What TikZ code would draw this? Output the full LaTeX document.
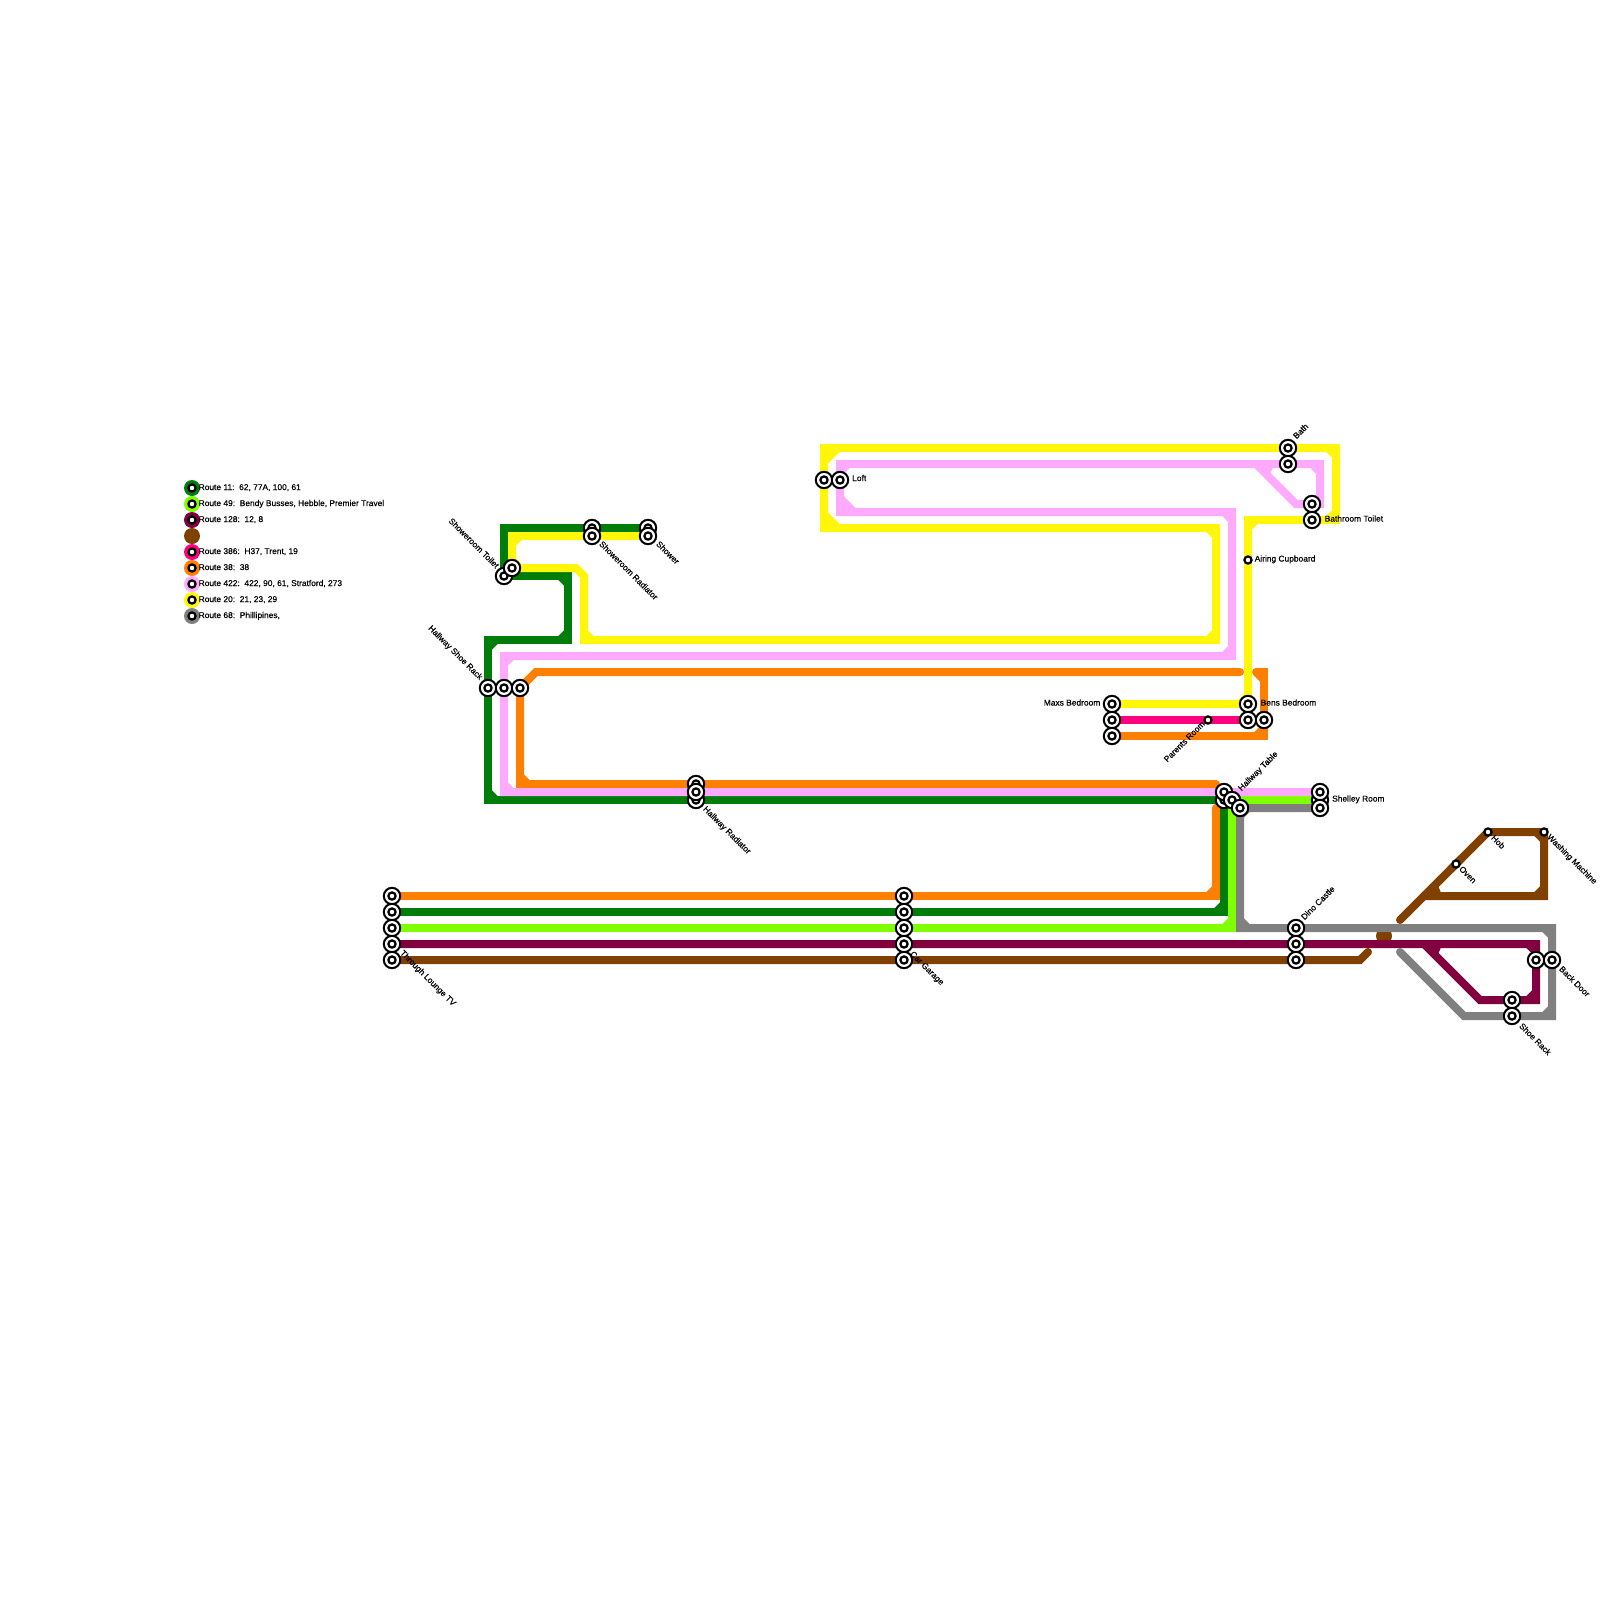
\documentclass[tikz,border=0pt]{standalone}
\usepackage{fontspec}
\setmainfont[FakeBold=0.4]{Liberation Sans}
\usetikzlibrary{calc}
\pgfdeclarelayer{bg}
\pgfsetlayers{bg,main}
\definecolor{cGreen}{HTML}{007C0A}
\definecolor{cLime}{HTML}{7FFF00}
\definecolor{cCrim}{HTML}{800040}
\definecolor{cBrown}{HTML}{804000}
\definecolor{cMag}{HTML}{FF0080}
\definecolor{cOrange}{HTML}{FF8000}
\definecolor{cPink}{HTML}{FFAAFF}
\definecolor{cYellow}{HTML}{FFF60A}
\definecolor{cGray}{HTML}{808080}
\tikzset{
  rt/.style={line width=8pt,line cap=round,line join=miter},
  bigst/.style={circle,draw=black,line width=2pt,fill=white,minimum size=16.4pt,inner sep=0pt,
    path picture={\draw[line width=2.2pt,fill=white] (path picture bounding box.center) circle (3.6pt);}},
  smallst/.style={circle,draw=black,line width=2.2pt,fill=white,minimum size=7.2pt,inner sep=0pt},
  legdot/.style={circle,fill=#1,minimum size=16pt,inner sep=0pt},
  lab/.style={font=\fontsize{8.4}{8.4}\selectfont,inner sep=0pt,text height=5.8pt,text depth=1.7pt,text=black},
  ll/.style={lab,anchor=west},
  lr/.style={lab,anchor=east},
  dn/.style={lab,anchor=west,rotate=-45},
  up/.style={lab,anchor=west,rotate=45},
  upr/.style={lab,anchor=east,rotate=45},
  dnr/.style={lab,anchor=east,rotate=-45},
}
% a route: sharp polyline, with the inner side of every right-angled bend chamfered
\newcommand\nochamf[1]{\expandafter\def\csname nc@#1\endcsname{}}
\newcommand\route[3]{%
  \draw[rt,#1] (#2.center) \foreach \p in {#3}{ -- (\p.center)};
  \gdef\rtA{}\xdef\rtB{#2}%
  \foreach \p in {#3}{%
    \ifx\rtA\empty\else
      \ifcsname nc@\rtB\endcsname\else
        \draw[rt,#1,line cap=butt] ($(\rtB.center)!8pt!(\rtA.center)$) -- ($(\rtB.center)!8pt!(\p.center)$);
      \fi
    \fi
    \xdef\rtA{\rtB}\xdef\rtB{\p}%
  }%
}
\newcommand\chamf[4]{\draw[rt,#1,line cap=butt] ($(#2.center)!14pt!(#3.center)$) -- ($(#2.center)!14pt!(#4.center)$);}
\newcommand\stn[3]{\node[bigst] (#1) at (#2,#3) {};}
\newcommand\wpt[3]{\coordinate (#1) at (#2,#3);}
\nochamf{cC}\nochamf{bA}\nochamf{oD}\nochamf{src}\nochamf{yB}\nochamf{yC}\nochamf{hob}\nochamf{pH}\nochamf{kD}
\begin{document}
\begin{tikzpicture}[x=1pt,y=-1pt]
\useasboundingbox (0,0) rectangle (1600,1600);
\begin{pgfonlayer}{bg}\fill[white] (0,0) rectangle (1600,1600);\end{pgfonlayer}
% legend
\foreach \nm/\co/\yy/\txt in {a/cGreen/488/{Route 11:\ \ 62, 77A, 100, 61},
  b/cLime/504/{Route 49:\ \ Bendy Busses, Hebble, Premier Travel},
  c/cCrim/520/{Route 128:\ \ 12, 8},
  e/cMag/552/{Route 386:\ \ H37, Trent, 19},
  f/cOrange/568/{Route 38:\ \ 38},
  g/cPink/584/{Route 422:\ \ 422, 90, 61, Stratford, 273},
  h/cYellow/600/{Route 20:\ \ 21, 23, 29},
  i/cGray/616/{Route 68:\ \ Phillipines,}}{
  \node[legdot=\co] (leg\nm) at (192,\yy) {};
  \node[smallst] (legs\nm) at (192,\yy) {};
  \node[ll] (legt\nm) at (198.5,\yy) {\txt};
}
\node[legdot=cBrown] (legd) at (192,536) {};
% stations (later ones lie over earlier ones)
\stn{tva}{392}{896}\stn{tvb}{392}{912}\stn{tvc}{392}{928}\stn{tvd}{392}{944}\stn{tve}{392}{960}
\stn{cga}{904}{896}\stn{cgb}{904}{912}\stn{cgc}{904}{928}\stn{cgd}{904}{944}\stn{cge}{904}{960}
\stn{dca}{1296}{928}\stn{dcb}{1296}{944}\stn{dcc}{1296}{960}
\stn{mda}{1112}{704}\stn{mdb}{1112}{720}\stn{mdc}{1112}{736}
\stn{bba}{1248}{704}\stn{bbb}{1248}{720}\stn{bbc}{1264}{720}
\stn{baa}{1288}{448}\stn{bab}{1288}{464}
\stn{bta}{1312}{504}\stn{btb}{1312}{520}
\stn{lfa}{824}{480}\stn{lfb}{840}{480}
\stn{sta}{504}{576}\stn{stb}{512}{568}
\stn{sha}{592}{528}\stn{shb}{592}{536}
\stn{swa}{648}{528}\stn{swb}{648}{536}
\stn{sra}{488}{688}\stn{srb}{504}{688}\stn{src}{520}{688}
\stn{hra}{696}{784}\stn{hrc}{696}{800}\stn{hrb}{696}{792}
\stn{hta}{1224}{800}\stn{htb}{1224}{792}\stn{htc}{1232}{800}\stn{htd}{1240}{808}
\stn{slb}{1320}{800}\stn{sla}{1320}{792}\stn{slc}{1320}{808}
\stn{bda}{1536}{960}\stn{bdb}{1552}{960}
\stn{ska}{1512}{1000}\stn{skb}{1512}{1016}
\node[smallst] (acb) at (1248,560) {};
\node[smallst] (prm) at (1208,720) {};
\node[smallst] (ovn) at (1456,864) {};
\node[smallst] (hob) at (1488,832) {};
\node[smallst] (wsh) at (1544,832) {};
% way-points
\wpt{gA}{1224}{912}\wpt{gB}{488}{800}\wpt{gC}{488}{640}\wpt{gD}{568}{640}\wpt{gE}{568}{576}\wpt{gF}{504}{528}
\wpt{yA}{512}{536}\wpt{yB}{576}{568}\wpt{yC}{584}{576}\wpt{yD}{584}{640}\wpt{yE}{1216}{640}\wpt{yF}{1216}{528}\wpt{yG}{824}{528}\wpt{yH}{824}{448}\wpt{yI}{1336}{448}\wpt{yJ}{1336}{520}\wpt{yK}{1248}{520}
\wpt{pA}{504}{792}\wpt{pB}{504}{656}\wpt{pC}{1232}{656}\wpt{pD}{1232}{512}\wpt{pE}{840}{512}\wpt{pF}{840}{464}\wpt{pG}{1320}{464}\wpt{pJ}{1320}{504}\wpt{pH}{1296}{504}\wpt{pI}{1256}{464}
\wpt{oA}{1216}{896}\wpt{oB}{1216}{808}\wpt{oC}{1240}{672}\wpt{oD}{536}{672}\wpt{oE}{520}{784}\wpt{oF}{1216}{784}\wpt{oG}{1256}{672}\wpt{oH}{1264}{672}\wpt{oI}{1264}{736}
\wpt{lA}{1232}{928}
\wpt{cA}{1536}{944}\wpt{cB}{1536}{1000}\wpt{cC}{1480}{1000}\wpt{cD}{1424}{944}
\wpt{bA}{1360}{960}\wpt{bB}{1368}{952}\wpt{bC}{1400}{920}\wpt{bD}{1544}{896}\wpt{bE}{1424}{896}
\wpt{kA}{1240}{928}\wpt{kB}{1552}{928}\wpt{kC}{1552}{1016}\wpt{kD}{1464}{1016}\wpt{kE}{1400}{952}
\begin{pgfonlayer}{bg}
\node[circle,fill=cBrown,minimum size=16pt,inner sep=0pt] (bdot) at (1384,936) {};
\route{cBrown}{tve}{cge,dcc,bA,bB}
\route{cBrown}{bC}{ovn,hob,wsh,bD,bE}
\chamf{cBrown}{bE}{bD}{ovn}
\route{cGreen}{tvb}{cgb,gA,hta,hrc,gB,sra,gC,gD,gE,sta,gF,sha,swa}
\route{cLime}{tvc}{cgc,lA,htc,slb}
\route{cCrim}{tvd}{cgd,dcb,cA,bda,cB,ska,cC,cD}
\chamf{cCrim}{cD}{cA}{cC}
\route{cMag}{mdb}{prm,bbb}
\route{cOrange}{tva}{cga,oA,oB}
\route{cOrange}{oC}{oD,src,oE,hra,oF}
\route{cOrange}{oG}{oH,bbc,oI,mdc}
\route{cPink}{sla}{htb,hrb,pA,srb,pB,pC,pD,pE,lfb,pF,bab,pG,pJ,bta,pH,pI}
\chamf{cPink}{pE}{pD}{pF}
\chamf{cPink}{pI}{pG}{pH}
\route{cYellow}{swb}{shb,yA,stb,yB,yC,yD,yE,yF,yG,lfa,yH,baa,yI,yJ,btb,yK,acb,bba,mda}
\chamf{cYellow}{yG}{yF}{lfa}
\chamf{cYellow}{yH}{baa}{lfa}
\route{cGray}{slc}{htd,kA,dca,kB,bdb,kC,skb,kD,kE}
\end{pgfonlayer}
% labels
\node[dnr] (ltoil) at (497,567.5) {Showeroom Toilet};
\node[dnr] (lshoe) at (481,679) {Hallway Shoe Rack};
\node[dn] (lrad) at (600,543) {Showeroom Radiator};
\node[dn] (lshw) at (657,543) {Shower};
\node[dn] (lhrad) at (704,808) {Hallway Radiator};
\node[dn] (ltv) at (401,952) {Through Lounge TV};
\node[dn] (lcar) at (911,953) {Car Garage};
\node[ll] (lloft) at (852,479) {Loft};
\node[up] (lbath) at (1295,438) {Bath};
\node[ll] (lbtoil) at (1324.5,519.5) {Bathroom Toilet};
\node[ll] (lair) at (1254.5,559.5) {Airing Cupboard};
\node[lr] (lmax) at (1100.5,703.5) {Maxs Bedroom};
\node[upr] (lpar) at (1204,723) {Parents Room};
\node[ll] (lben) at (1260.5,703.5) {Bens Bedroom};
\node[up] (ltab) at (1240,790) {Hallway Table};
\node[ll] (lshel) at (1332,799.5) {Shelley Room};
\node[up] (ldino) at (1303,919) {Dino Castle};
\node[dn] (lback) at (1560,968) {Back Door};
\node[dn] (lsrack) at (1520,1025) {Shoe Rack};
\node[dn] (lhob) at (1492,837) {Hob};
\node[dn] (loven) at (1460,868) {Oven};
\node[dn] (lwash) at (1548,836) {Washing Machine};
\end{tikzpicture}
\end{document}
